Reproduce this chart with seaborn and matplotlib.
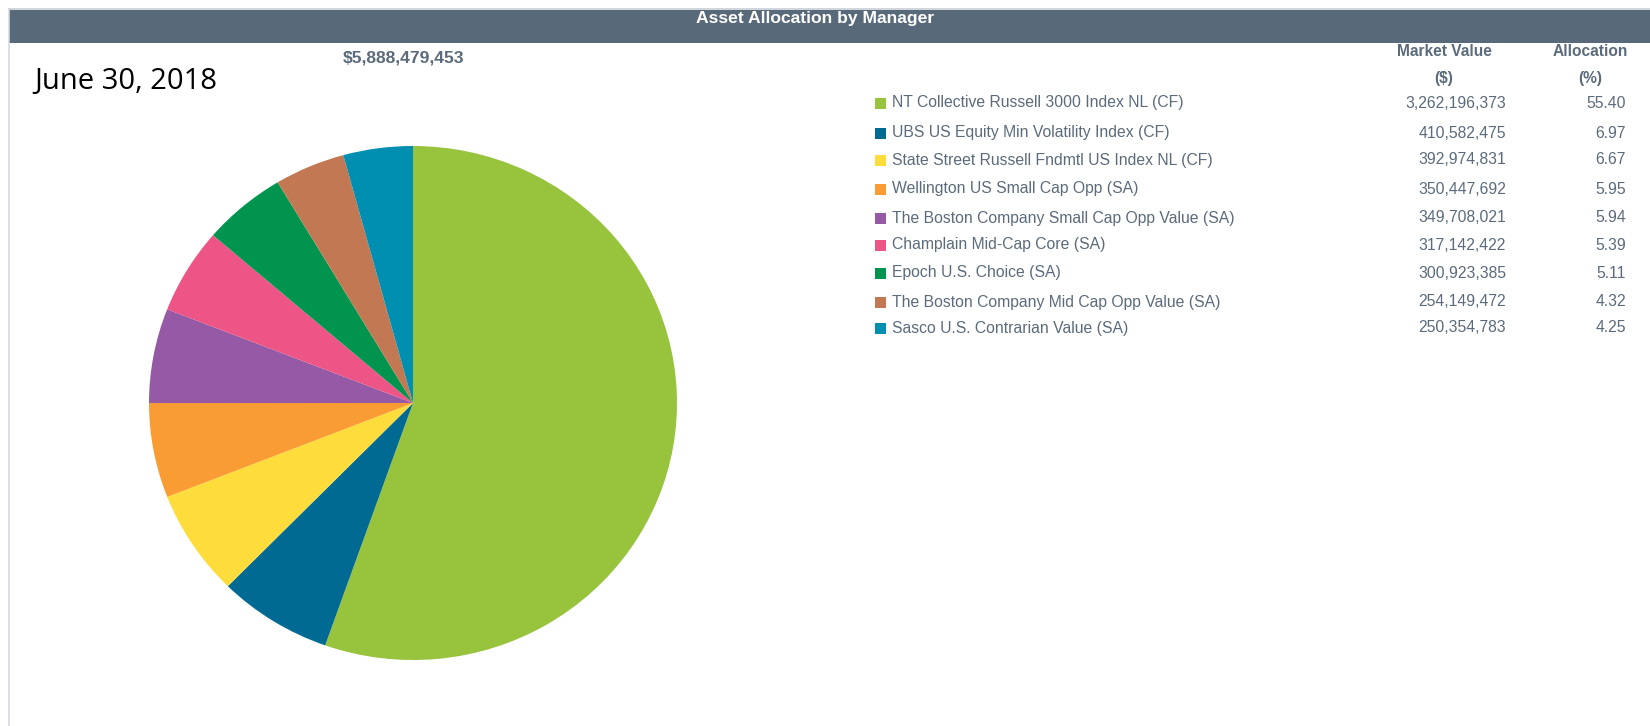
import matplotlib
matplotlib.use("Agg")
import matplotlib.pyplot as plt
from matplotlib.patches import Rectangle
import seaborn as sns

# ---- data ----
managers = [
    "NT Collective Russell 3000 Index NL (CF)",
    "UBS US Equity Min Volatility Index (CF)",
    "State Street Russell Fndmtl US Index NL (CF)",
    "Wellington US Small Cap Opp (SA)",
    "The Boston Company Small Cap Opp Value (SA)",
    "Champlain Mid-Cap Core (SA)",
    "Epoch U.S. Choice (SA)",
    "The Boston Company Mid Cap Opp Value (SA)",
    "Sasco U.S. Contrarian Value (SA)",
]
market_values = [3262196373, 410582475, 392974831, 350447692, 349708021,
                 317142422, 300923385, 254149472, 250354783]
allocations = [55.40, 6.97, 6.67, 5.95, 5.94, 5.39, 5.11, 4.32, 4.25]
total_value = "$5,888,479,453"
date_label = "June 30, 2018"
title = "Asset Allocation by Manager"
hdr_value = ["Market Value", "($)"]
hdr_alloc = ["Allocation", "(%)"]
colors = ["#97C33D", "#006A92", "#FDDC3C", "#F89C33", "#9559A6",
          "#EC5585", "#00944F", "#C27852", "#008FB0"]

sns.set_theme(style="white")
plt.rcParams["font.family"] = ["Liberation Sans", "DejaVu Sans"]
palette = sns.color_palette(colors)

W, H = 1650, 726
fig = plt.figure(figsize=(W / 100, H / 100), dpi=100)
fig.patch.set_facecolor("white")

def fx(x):
    return x / W

def fy(y):
    return 1 - y / H

txt_col = "#5B6B7B"

# background / frame
bg = fig.add_axes([0, 0, 1, 1])
bg.set_xlim(0, W)
bg.set_ylim(H, 0)
bg.axis("off")
bg.add_patch(Rectangle((9, 10), W - 9, 33, facecolor="#586A7A", edgecolor="none"))
bg.plot([8.5, 8.5], [9, H], color="#D3D8E0", lw=1.2)
bg.plot([8.5, W], [9, 9], color="#C8CDD5", lw=1.2)

bg.text(815, 18, title, color="white", fontsize=12.6, fontweight="bold",
        ha="center", va="center")
bg.text(404, 58, total_value, color="#5B6B7B", fontsize=12.6, fontweight="bold",
        ha="center", va="center")
bg.text(34, 82, date_label, color="black", fontsize=21, ha="left", va="center",
        family=["Open Sans", "DejaVu Sans"])

# column headers
for lbl, y in zip(hdr_value, [52, 78]):
    bg.text(1444, y, lbl, color=txt_col, fontsize=11.2, fontweight="bold",
            ha="center", va="center")
for lbl, y in zip(hdr_alloc, [52, 78]):
    bg.text(1590, y, lbl, color=txt_col, fontsize=11.2, fontweight="bold",
            ha="center", va="center")

# legend rows
row_y = [103, 133, 160, 189, 218, 245, 273, 302, 328]
for i, name in enumerate(managers):
    y = row_y[i]
    bg.add_patch(Rectangle((875, y - 5.5), 11, 11, facecolor=palette[i], edgecolor="none"))
    bg.text(892, y, name, color=txt_col, fontsize=11.3, ha="left", va="center")
    bg.text(1506, y, f"{market_values[i]:,}", color=txt_col, fontsize=11.3,
            ha="right", va="center")
    bg.text(1626, y, f"{allocations[i]:.2f}", color=txt_col, fontsize=11.3,
            ha="right", va="center")

# pie
x0, x1, y0, y1 = 149, 677, 146, 660
ax = fig.add_axes([fx(x0), fy(y1), fx(x1 - x0), (y1 - y0) / H])
ax.pie(market_values, colors=palette, startangle=90, counterclock=False,
       radius=1, wedgeprops=dict(linewidth=0))
ax.set_xlim(-1, 1)
ax.set_ylim(-1, 1)
ax.set_aspect("auto")
ax.axis("off")

fig.savefig("out.png", dpi=100, facecolor="white")
